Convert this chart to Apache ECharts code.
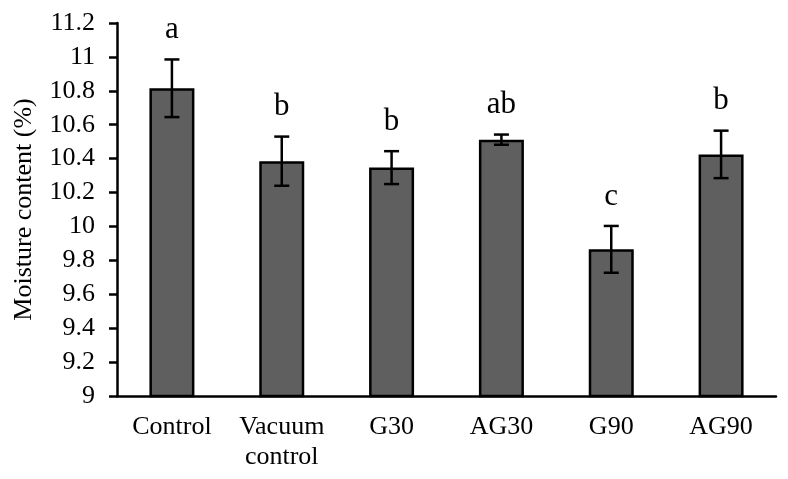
<!DOCTYPE html>
<html>
<head>
<meta charset="utf-8">
<script src="https://cdn.jsdelivr.net/npm/echarts@6/dist/echarts.min.js"></script>
<style>html,body{margin:0;padding:0;background:#fff;}#c{width:788px;height:479px;}</style>
</head>
<body>
<div id="c"></div>
<script>
var categories = ['Control', 'Vacuum\ncontrol', 'G30', 'AG30', 'G90', 'AG90'];
var means = [10.815, 10.385, 10.347, 10.512, 9.865, 10.425];
var errors = [0.17, 0.145, 0.097, 0.03, 0.138, 0.14];
var letters = ['a', 'b', 'b', 'ab', 'c', 'b'];
var yTicks = { min: 9, max: 11.2, interval: 0.2 };

var FONT = 'Liberation Serif';
var chart = echarts.init(document.getElementById('c'));

var errData = means.map(function (m, i) { return [i, m - errors[i], m + errors[i], letters[i]]; });

chart.setOption({
  animation: false,
  backgroundColor: '#ffffff',
  grid: { left: 117, right: 12, top: 23, bottom: 83, containLabel: false, outerBoundsMode: 'none' },
  xAxis: {
    type: 'category',
    data: categories,
    axisLine: { lineStyle: { color: '#000', width: 2.5 } },
    axisTick: { show: false },
    axisLabel: { color: '#000', fontFamily: FONT, fontSize: 26, margin: 16, lineHeight: 30, interval: 0 }
  },
  yAxis: {
    type: 'value',
    min: yTicks.min,
    max: yTicks.max,
    interval: yTicks.interval,
    name: 'Moisture content (%)',
    nameLocation: 'middle',
    nameGap: 80,
    nameTextStyle: { color: '#000', fontFamily: FONT, fontSize: 26 },
    axisLine: { show: true, lineStyle: { color: '#000', width: 2.5 } },
    axisTick: { show: true, length: 8, lineStyle: { color: '#000', width: 2.5 } },
    splitLine: { show: false },
    axisLabel: { color: '#000', fontFamily: FONT, fontSize: 26, margin: 22 }
  },
  series: [
    {
      type: 'bar',
      data: means,
      barWidth: 45,
      itemStyle: { color: '#5f5f5f', borderColor: '#000', borderWidth: 2.5 }
    },
    {
      type: 'custom',
      data: errData,
      z: 10,
      renderItem: function (params, api) {
        var x = api.value(0);
        var lo = api.coord([x, api.value(1)]);
        var hi = api.coord([x, api.value(2)]);
        var cap = 7.5;
        var st = { stroke: '#000', lineWidth: 2.5 };
        return {
          type: 'group',
          children: [
            { type: 'line', shape: { x1: hi[0], y1: hi[1], x2: lo[0], y2: lo[1] }, style: st },
            { type: 'line', shape: { x1: hi[0] - cap, y1: hi[1], x2: hi[0] + cap, y2: hi[1] }, style: st },
            { type: 'line', shape: { x1: lo[0] - cap, y1: lo[1], x2: lo[0] + cap, y2: lo[1] }, style: st },
            { type: 'text', x: hi[0], y: hi[1] - 14, style: { text: api.value(3), fill: '#000', font: '31px ' + FONT, textAlign: 'center', textVerticalAlign: 'bottom' } }
          ]
        };
      }
    }
  ]
});
</script>
</body>
</html>
